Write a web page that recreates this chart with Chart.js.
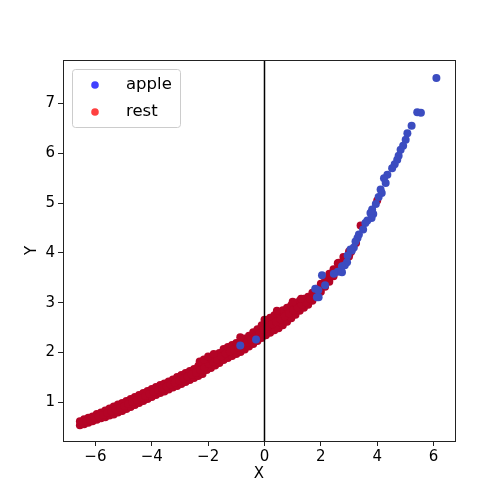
<!DOCTYPE html>
<html lang="en">
<head>
    <meta charset="UTF-8" />
    <title>apple vs rest</title>
    <script src="https://cdn.jsdelivr.net/npm/chart.js"></script>
    <style>
        body { margin: 0; background: #fff; }
        canvas { display: block; }
    </style>
</head>
<body>
    <canvas id="scatter" width="504" height="504"></canvas>

    <script>
        // axis setup
        const xMin = -7.15, xMax = 6.76;
        const yMin = 0.226, yMax = 7.87;
        const xTicks = [-6, -4, -2, 0, 2, 4, 6];
        const yTicks = [1, 2, 3, 4, 5, 6, 7];
        const zeroLineX = 0;

        // "apple" points (blue)
        const appleX = [6.10, 5.42, 5.55, 5.22, 5.07, 5.01, 4.92, 4.83, 4.76, 4.71, 4.62, 4.53, 4.36, 4.24, 4.30,
            4.12, 4.16, 4.05, 3.95, 3.82, 3.86, 3.76, 3.80, 3.65, 3.58, 3.50, 3.35, 3.30, 3.23, 3.17,
            3.10, 3.05, 2.95, 2.93, 2.85, 2.75, 2.75, 2.60, 2.46, 2.04, 1.80, 1.92, 2.15, 1.91, 1.86,
            -0.30, -0.86];
        const appleY = [7.51, 6.82, 6.81, 6.55, 6.40, 6.27, 6.15, 6.07, 5.95, 5.87, 5.78, 5.70, 5.57, 5.50, 5.40,
            5.27, 5.20, 5.12, 4.98, 4.87, 4.78, 4.80, 4.70, 4.65, 4.60, 4.47, 4.37, 4.30, 4.23, 4.11,
            4.05, 4.07, 3.95, 3.81, 3.75, 3.73, 3.61, 3.62, 3.58, 3.55, 3.28, 3.11, 3.35, 3.25, 3.11,
            2.26, 2.14];

        // "rest" points (red): the band is read as a lower edge, a middle line and an upper edge
        const bandX = [
            -6.55, -6.40, -6.25, -6.10, -5.95, -5.80, -5.65, -5.50, -5.35, -5.20, -5.05, -4.90, -4.75, -4.60, -4.45,
            -4.30, -4.15, -4.00, -3.85, -3.70, -3.55, -3.40, -3.25, -3.10, -2.95, -2.80, -2.65, -2.50, -2.35, -2.20,
            -2.05, -1.90, -1.75, -1.60, -1.45, -1.30, -1.15, -1.00, -0.85, -0.70, -0.55, -0.40, -0.25, -0.10, 0.05,
            0.20, 0.35, 0.50, 0.65, 0.80, 0.95, 1.10, 1.25, 1.40, 1.55, 1.70, 1.85, 2.00, 2.15, 2.30,
            2.45, 2.60, 2.80, 3.00];
        const bandLow = [
            0.54, 0.56, 0.59, 0.62, 0.65, 0.68, 0.70, 0.74, 0.76, 0.80, 0.83, 0.87, 0.91, 0.95, 0.99,
            1.03, 1.07, 1.11, 1.15, 1.19, 1.22, 1.26, 1.30, 1.33, 1.37, 1.41, 1.45, 1.49, 1.53, 1.57,
            1.65, 1.69, 1.74, 1.79, 1.85, 1.89, 1.93, 1.97, 2.01, 2.06, 2.12, 2.17, 2.23, 2.29, 2.35,
            2.40, 2.45, 2.49, 2.55, 2.62, 2.69, 2.76, 2.84, 2.90, 2.96, 3.04, 3.12, 3.22, 3.32, 3.42,
            3.53, 3.65, 3.80, 3.93];
        const bandHigh = [
            0.62, 0.66, 0.69, 0.72, 0.77, 0.80, 0.84, 0.88, 0.92, 0.96, 0.99, 1.03, 1.07, 1.11, 1.15,
            1.19, 1.23, 1.27, 1.31, 1.35, 1.38, 1.42, 1.46, 1.51, 1.55, 1.59, 1.63, 1.67, 1.73, 1.77,
            1.85, 1.89, 1.94, 1.99, 2.07, 2.11, 2.15, 2.19, 2.23, 2.28, 2.34, 2.41, 2.47, 2.55, 2.65,
            2.70, 2.75, 2.79, 2.85, 2.90, 2.95, 3.00, 3.04, 3.08, 3.12, 3.20, 3.28, 3.38, 3.48, 3.58,
            3.67, 3.79, 3.92, 4.03];
        const midX = [
            -6.48, -6.33, -6.18, -6.03, -5.88, -5.73, -5.58, -5.43, -5.28, -5.13, -4.98, -4.83, -4.68, -4.53, -4.38,
            -4.23, -4.08, -3.93, -3.78, -3.63, -3.48, -3.33, -3.18, -3.03, -2.88, -2.73, -2.58, -2.43, -2.28, -2.13,
            -1.98, -1.83, -1.68, -1.53, -1.38, -1.23, -1.08, -0.93, -0.78, -0.63, -0.48, -0.33, -0.18, -0.03, 0.12,
            0.27, 0.42, 0.57, 0.72, 0.87, 1.02, 1.17, 1.32, 1.47, 1.62, 1.77, 1.92, 2.07, 2.22, 2.37,
            2.52, 2.67, 2.87, 3.07];
        const bandMid = [
            0.59, 0.62, 0.65, 0.69, 0.72, 0.75, 0.79, 0.82, 0.86, 0.89, 0.93, 0.97, 1.01, 1.05, 1.09,
            1.13, 1.17, 1.21, 1.25, 1.28, 1.32, 1.36, 1.40, 1.44, 1.48, 1.52, 1.56, 1.60, 1.65, 1.71,
            1.77, 1.81, 1.86, 1.92, 1.98, 2.02, 2.06, 2.10, 2.14, 2.20, 2.26, 2.32, 2.38, 2.46, 2.52,
            2.57, 2.62, 2.67, 2.73, 2.79, 2.85, 2.91, 2.96, 3.01, 3.08, 3.16, 3.25, 3.35, 3.45, 3.55,
            3.66, 3.77, 3.90, 4.02];
        const strayX = [-2.30, -2.15, -2.00, -1.80, -0.86, 0.00, 0.44, 1.00, 1.30, 2.63, 2.99, 3.25, 3.41, 4.00];
        const strayY = [1.82, 1.86, 1.92, 1.97, 2.31, 2.66, 2.84, 3.02, 3.08, 3.80, 3.97, 4.20, 4.55, 5.05];

        const seriesNames = ['apple', 'rest'];
        const pointColors = ['#3b4cc0', '#b40426'];
        const legendColors = ['rgba(0,0,255,0.75)', 'rgba(255,0,0,0.75)'];

        const toPoints = (xs, ys) => xs.map((x, i) => ({ x: x, y: ys[i] }));
        const restPoints = [].concat(
            toPoints(bandX, bandLow),
            toPoints(bandX, bandHigh),
            toPoints(midX, bandMid),
            toPoints(strayX, strayY)
        );
        const fontFamily = "'DejaVu Sans', sans-serif";

        // matplotlib-like legend box + full frame
        const mplLegend = {
            id: 'mplLegend',
            afterDraw(chart) {
                const ctx = chart.ctx;
                const a = chart.chartArea;
                ctx.save();
                // frame
                ctx.strokeStyle = '#222';
                ctx.lineWidth = 1;
                ctx.strokeRect(Math.round(a.left) + 0.5, Math.round(a.top) + 0.5,
                    Math.round(a.right - a.left), Math.round(a.bottom - a.top));
                // legend box
                const bx = a.left + 9.5, by = a.top + 9.5, bw = 108, bh = 58;
                ctx.beginPath();
                ctx.roundRect(bx, by, bw, bh, 3);
                ctx.fillStyle = 'rgba(255,255,255,0.8)';
                ctx.fill();
                ctx.strokeStyle = '#cccccc';
                ctx.stroke();
                ctx.font = '16.5px ' + fontFamily;
                ctx.textBaseline = 'middle';
                seriesNames.forEach((name, i) => {
                    const cy = a.top + 25 + i * 27;
                    ctx.beginPath();
                    ctx.arc(a.left + 32, cy, 3.8, 0, Math.PI * 2);
                    ctx.fillStyle = legendColors[i];
                    ctx.fill();
                    ctx.fillStyle = '#000';
                    ctx.fillText(name, a.left + 63, cy);
                });
                ctx.restore();
            }
        };

        const minus = v => String(v).replace('-', '\u2212');

        new Chart(document.getElementById('scatter'), {
            type: 'scatter',
            data: {
                datasets: [
                    {
                        label: 'x = 0',
                        data: [{ x: zeroLineX, y: yMin }, { x: zeroLineX, y: yMax }],
                        showLine: true,
                        borderColor: '#000',
                        borderWidth: 1.5,
                        pointRadius: 0
                    },
                    {
                        label: seriesNames[0],
                        data: toPoints(appleX, appleY),
                        backgroundColor: pointColors[0],
                        borderWidth: 0,
                        pointRadius: 4
                    },
                    {
                        label: seriesNames[1],
                        data: restPoints,
                        backgroundColor: pointColors[1],
                        borderWidth: 0,
                        pointRadius: 4
                    }
                ]
            },
            options: {
                responsive: false,
                animation: false,
                layout: { padding: { top: 60, right: 49, left: 20, bottom: 20 } },
                plugins: {
                    legend: { display: false },
                    tooltip: { enabled: false }
                },
                scales: {
                    x: {
                        type: 'linear',
                        min: xMin,
                        max: xMax,
                        afterBuildTicks: s => { s.ticks = xTicks.map(v => ({ value: v })); },
                        afterFit: s => { s.height = 43; },
                        border: { display: false },
                        grid: { drawOnChartArea: false, drawTicks: true, tickLength: 5, color: '#222' },
                        ticks: { color: '#000', padding: 2, maxRotation: 0, font: { family: fontFamily, size: 15 }, callback: v => minus(v) },
                        title: { display: true, text: 'X', color: '#000', font: { family: fontFamily, size: 15 }, padding: { top: 0, bottom: 1 } }
                    },
                    y: {
                        type: 'linear',
                        min: yMin,
                        max: yMax,
                        afterBuildTicks: s => { s.ticks = yTicks.map(v => ({ value: v })); },
                        afterFit: s => { s.width = 43; },
                        border: { display: false },
                        grid: { drawOnChartArea: false, drawTicks: true, tickLength: 5, color: '#222' },
                        ticks: { color: '#000', padding: 3, font: { family: fontFamily, size: 15 }, callback: v => minus(v) },
                        title: { display: true, text: 'Y', color: '#000', font: { family: fontFamily, size: 15 }, padding: { top: 3, bottom: 0 } }
                    }
                }
            },
            plugins: [mplLegend]
        });
    </script>
</body>
</html>
